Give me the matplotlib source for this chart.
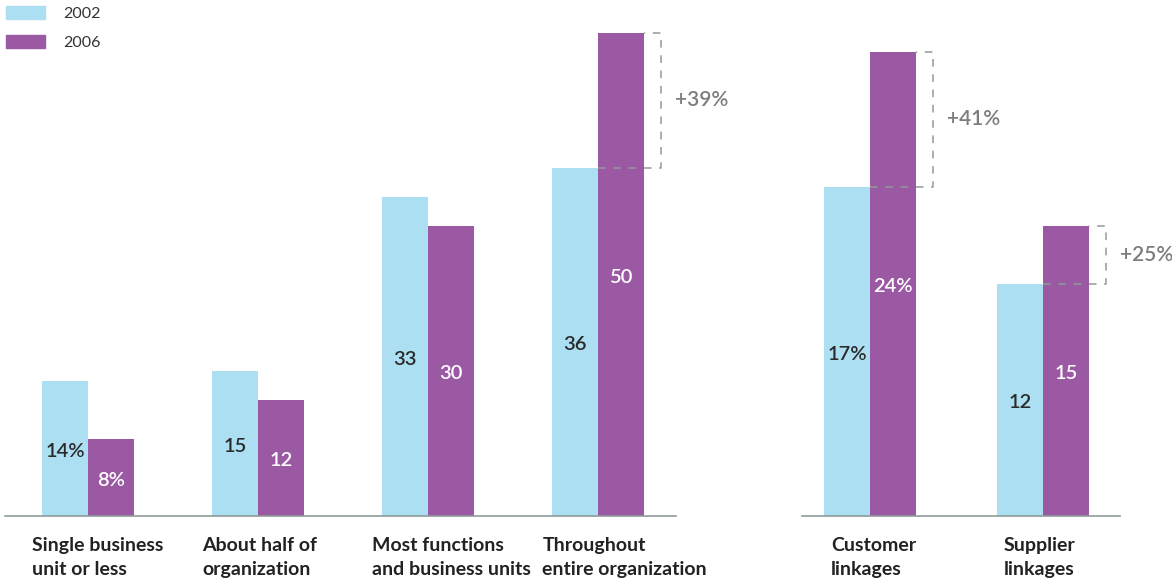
import numpy as np
import matplotlib.pyplot as plt

# reach of collaboration tools, share of companies (%)
scope_labels = ["Single business\nunit or less", "About half of\norganization",
                "Most functions\nand business units", "Throughout\nentire organization"]
scope_2002 = [14, 15, 33, 36]
scope_2006 = [8, 12, 30, 50]
scope_pct = [True, False, False, False]

link_labels = ["Customer\nlinkages", "Supplier\nlinkages"]
link_2002 = [17, 12]
link_2006 = [24, 15]
link_pct = [True, False]

# growth brackets: (group index, label)
scope_growth = [(3, "+39%")]
link_growth = [(0, "+41%"), (1, "+25%")]

C02 = "#abdff1"
C06 = "#9b59a3"
GREY = "#8e9b99"
FONT = ["Lato", "DejaVu Sans"]

W, H = 1172, 586
fig = plt.figure(figsize=(W / 100, H / 100), dpi=100)


def px_axes(x0, x1):
    return fig.add_axes([x0 / W, 70 / H, (x1 - x0) / W, 516 / H])


def panel(ax, labels, a, b, pct, growth, width, xlim, ylim, lab_dx):
    x = np.arange(len(labels))
    ax.bar(x - width / 2, a, width, color=C02, linewidth=0)
    ax.bar(x + width / 2, b, width, color=C06, linewidth=0)
    ax.set_xlim(*xlim)
    ax.set_ylim(*ylim)
    for s in ["top", "right", "left"]:
        ax.spines[s].set_visible(False)
    ax.spines["bottom"].set_color(GREY)
    ax.spines["bottom"].set_linewidth(1.2)
    ax.set_xticks([])
    ax.set_yticks([])
    for i in range(len(labels)):
        sfx = "%" if pct[i] else ""
        ax.annotate(f"{a[i]}{sfx}", xy=(x[i] - width / 2, a[i] / 2), xytext=(0, -2),
                    textcoords="offset points", ha="center", va="center",
                    color="#2a2a2a", fontsize=14.5, family=FONT, fontweight="semibold")
        ax.annotate(f"{b[i]}{sfx}", xy=(x[i] + width / 2, b[i] / 2), xytext=(0, -2),
                    textcoords="offset points", ha="center", va="center",
                    color="white", fontsize=14.5, family=FONT, fontweight="semibold")
        ax.annotate(labels[i], xy=(x[i] - width, 0), xycoords=("data", "axes fraction"),
                    xytext=(lab_dx, -15), textcoords="offset points", ha="left", va="top",
                    fontsize=14, family=FONT, fontweight="bold", color="#222222",
                    linespacing=1.5)
    # dashed bracket showing the 2002 -> 2006 rise
    for i, txt in growth:
        x_l = x[i]
        x_r = x[i] + width
        x_b = x_r + width * 0.37
        ax.plot([x_l, x_b, x_b, x_r], [a[i], a[i], b[i], b[i]], color=GREY, lw=1.1,
                dashes=(5, 5), clip_on=False)
        ax.annotate(txt, xy=(x_b, (a[i] + b[i]) / 2), xytext=(10, 0),
                    textcoords="offset points", ha="left", va="center",
                    fontsize=15, family=FONT, fontweight="semibold", color="#7d7d7d",
                    annotation_clip=False)


ax1 = px_axes(5, 676)
panel(ax1, scope_labels, scope_2002, scope_2006, scope_pct, scope_growth,
      46 / 170, ((5 - 88) / 170, (676 - 88) / 170), (0, 516 / 9.67), -7)

ax2 = px_axes(802, 1120)
panel(ax2, link_labels, link_2002, link_2006, link_pct, link_growth,
      46 / 173, ((802 - 870) / 173, (1120 - 870) / 173), (0, 516 / 19.35), 5)

# legend
handles = [plt.Rectangle((0, 0), 1, 1, color=C02), plt.Rectangle((0, 0), 1, 1, color=C06)]
fig.legend(handles, ["2002", "2006"], loc="upper left", bbox_to_anchor=(0.0, 1.0),
           frameon=False, prop={"family": FONT, "size": 11.5}, handlelength=2.4,
           handleheight=0.8, handletextpad=1.15, labelspacing=0.9,
           borderaxespad=0.2, borderpad=0.2, labelcolor="#333333")

fig.savefig("out.png", dpi=100)
